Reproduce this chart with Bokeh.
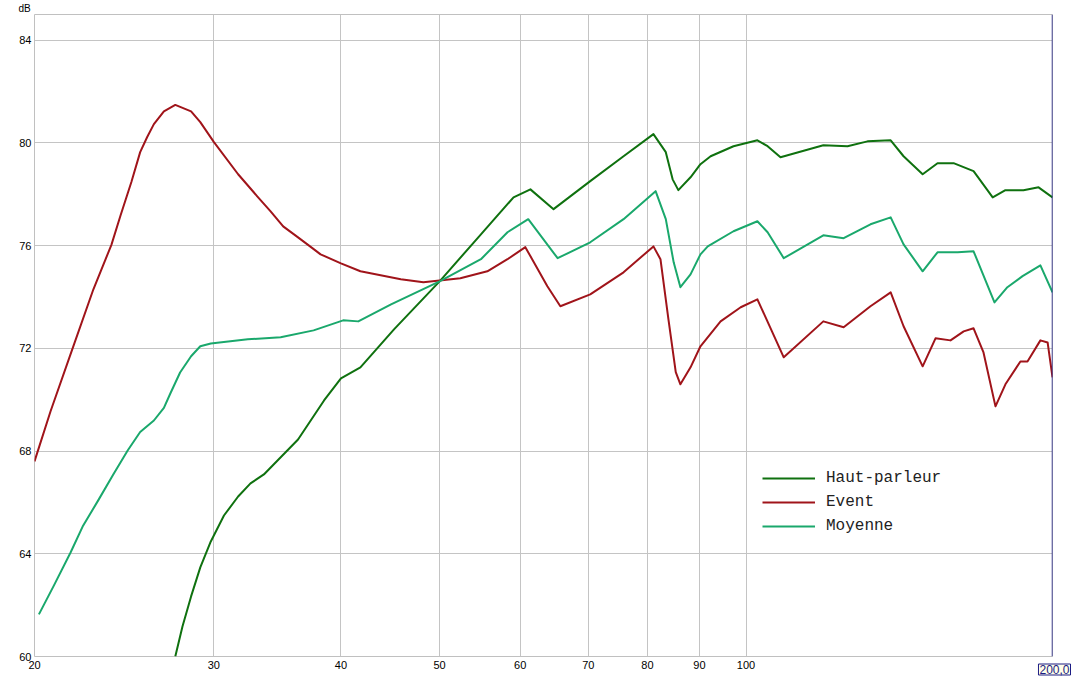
from bokeh.plotting import figure
from bokeh.models import FixedTicker, Span, Title, Legend, LegendItem, PrintfTickFormatter
from bokeh.embed import file_html
from bokeh.resources import INLINE

# ---- data ----
hp_freq = [27.5, 27.95, 28.5, 29.1, 29.8, 30.7, 31.7, 32.6, 33.6, 36.3, 38.5, 40.0, 41.8, 45.1, 50.0, 54.9,
           59.1, 61.4, 64.7, 70.3, 75.8, 81.1, 83.4, 84.7, 85.8, 88.2, 90.2, 92.3, 97.2, 102.6, 105.0, 108.1,
           119.1, 125.8, 131.6, 138.7, 142.8, 149.1, 154.2, 159.9, 167.3, 174.7, 179.8, 187.3, 193.8, 200.0]
hp_db = [60.0, 61.17, 62.34, 63.47, 64.48, 65.49, 66.23, 66.74, 67.09, 68.45, 69.97, 70.83, 71.26, 72.74, 74.61, 76.44,
         77.88, 78.19, 77.42, 78.51, 79.48, 80.34, 79.64, 78.58, 78.16, 78.66, 79.17, 79.48, 79.87, 80.10, 79.87, 79.44,
         79.91, 79.87, 80.06, 80.10, 79.48, 78.78, 79.21, 79.21, 78.90, 77.88, 78.16, 78.16, 78.27, 77.88]

ev_freq = [20.0, 20.74, 21.8, 22.85, 23.8, 24.3, 24.9, 25.4, 25.8, 26.2, 26.8, 27.5, 28.5, 29.1, 30.0, 31.7,
           33.1, 34.1, 35.1, 36.3, 37.3, 38.2, 40.0, 41.8,
           45.8, 48.2, 52.4, 55.7, 58.3, 60.7, 63.8, 65.7, 70.3, 75.8, 81.1, 82.4, 83.9, 85.3, 86.2, 88.2,
           90.2, 94.4, 98.8, 102.6, 108.9, 119.1, 124.7, 132.5, 138.7, 142.8, 149.1, 153.5, 158.8,
           163.6, 167.3, 171.1, 175.8, 179.8, 186.0, 189.0, 194.6, 197.8, 200.0]
ev_db = [67.60, 69.55, 72.00, 74.30, 76.03, 77.18, 78.48, 79.64, 80.22, 80.73, 81.23, 81.48, 81.23, 80.81, 80.04, 78.78,
         77.92, 77.34, 76.75, 76.32, 75.97, 75.66, 75.31, 75.00,
         74.69, 74.57, 74.73, 75.00, 75.47, 75.94, 74.42, 73.64, 74.10, 74.96, 75.97, 75.47, 73.13, 71.07, 70.60, 71.26,
         72.08, 73.05, 73.60, 73.91, 71.65, 73.05, 72.82, 73.64, 74.18, 72.86, 71.30, 72.39, 72.31,
         72.66, 72.78, 71.84, 69.74, 70.60, 71.49, 71.49, 72.31, 72.23, 70.87]

mo_freq = [20.2, 20.9, 21.7, 22.3, 23.1, 23.9, 24.7, 25.4, 26.2, 26.8, 27.2, 27.8, 28.5, 29.1, 29.8, 32.4,
           34.9, 37.6, 40.2, 41.6, 44.8, 50.0,
           54.9, 58.3, 61.1, 65.3, 70.3, 75.8, 81.5, 83.4, 84.9, 86.2, 88.2, 90.2, 91.7, 97.2, 102.6, 105.0,
           108.9, 119.1, 124.7, 132.5, 138.7, 142.8, 149.1, 154.2, 161.4, 167.3, 175.4, 180.6, 186.9,
           194.6, 200.0]
mo_db = [61.64, 62.77, 64.05, 65.06, 66.08, 67.09, 68.03, 68.74, 69.19, 69.68, 70.25, 71.06, 71.69, 72.08, 72.19, 72.35,
         72.43, 72.70, 73.09, 73.05, 73.71, 74.61,
         75.47, 76.52, 77.03, 75.51, 76.13, 77.03, 78.12, 77.03, 75.35, 74.38, 74.88, 75.66, 75.97, 76.56, 76.95, 76.52,
         75.51, 76.40, 76.29, 76.83, 77.10, 76.05, 75.00, 75.74, 75.74, 75.78, 73.79, 74.38, 74.81,
         75.23, 74.18]

x_ticks = [20, 30, 40, 50, 60, 70, 80, 90, 100]
y_ticks = [60, 64, 68, 72, 76, 80, 84]
series_names = ["Haut-parleur", "Event", "Moyenne"]
cursor_freq = 200
cursor_text = "200,0"
unit_text = "dB"

# ---- figure ----
p = figure(width=1080, height=679, x_axis_type="log", x_range=(20, 200), y_range=(60, 85),
           output_backend="svg", toolbar_location=None,
           min_border_left=34, min_border_right=28, min_border_top=14, min_border_bottom=23)
p.background_fill_color = "white"
p.border_fill_color = "white"
p.outline_line_color = "#c0c0c0"
p.outline_line_width = 1

for ax in (p.xaxis[0], p.yaxis[0]):
    ax.axis_line_color = None
    ax.major_tick_line_color = None
    ax.minor_tick_line_color = None
    ax.major_tick_out = 0
    ax.major_tick_in = 0
    ax.minor_tick_out = 0
    ax.minor_tick_in = 0
    ax.major_label_text_font = "Liberation Sans"
    ax.major_label_text_font_size = "11px"
    ax.major_label_text_color = "black"
    ax.major_label_standoff = 3

p.xaxis.major_label_standoff = 4
p.xaxis.ticker = FixedTicker(ticks=x_ticks)
p.xaxis.formatter = PrintfTickFormatter(format="%d")
p.yaxis.ticker = FixedTicker(ticks=y_ticks)
p.yaxis.formatter = PrintfTickFormatter(format="%d")

p.xgrid.grid_line_color = "#c4c4c4"
p.ygrid.grid_line_color = "#c4c4c4"

r_hp = p.line(hp_freq, hp_db, line_color="#0f710f", line_width=2, line_join="round")
r_ev = p.line(ev_freq, ev_db, line_color="#a0141a", line_width=2, line_join="round")
r_mo = p.line(mo_freq, mo_db, line_color="#1aa86c", line_width=2, line_join="round")

legend = Legend(items=[LegendItem(label=series_names[0], renderers=[r_hp]),
                       LegendItem(label=series_names[1], renderers=[r_ev]),
                       LegendItem(label=series_names[2], renderers=[r_mo])],
                location=(728, 120))
legend.background_fill_alpha = 0
legend.border_line_alpha = 0
legend.label_text_font = "Liberation Mono"
legend.label_text_font_size = "16px"
legend.label_text_color = "#222222"
legend.glyph_width = 53
legend.glyph_height = 20
legend.spacing = 4
legend.label_standoff = 11
legend.padding = 0
legend.margin = 0
legend.label_height = 20
p.add_layout(legend)

cursor = Span(location=cursor_freq, dimension="height", line_color="#1c1c84", line_width=1.5)
p.add_layout(cursor)

t_unit = Title(text=unit_text, align="left", offset=-16, standoff=1,
               text_font="Liberation Sans", text_font_size="10px", text_font_style="normal",
               text_color="black")
p.add_layout(t_unit, "above")

# cursor read-out box: a title stacked after the x axis, with a negative standoff so it takes no room
t_cursor = Title(text=cursor_text, align="right", offset=-18, standoff=-15, vertical_align="top",
                 text_font="Liberation Sans", text_font_size="12px", text_font_style="normal",
                 text_color="#1c1c84", background_fill_color="#ffffea",
                 border_line_color="#1c1c84", border_line_width=1, padding=1)
p.add_layout(t_cursor, "below")

open("out.html", "w").write(file_html(p, INLINE))
